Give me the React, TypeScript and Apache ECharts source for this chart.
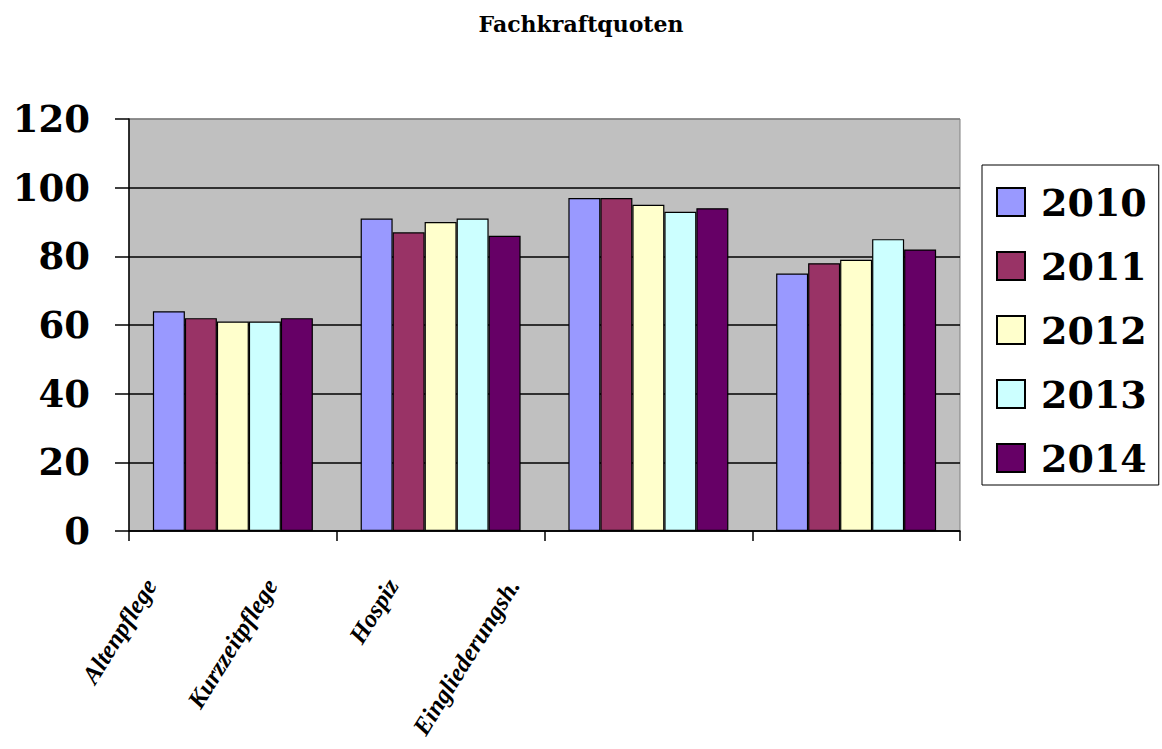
import React, { useEffect, useRef } from "react";
import * as echarts from "echarts";

const titleText = "Fachkraftquoten";
const categories = ["Altenpflege", "Kurzzeitpflege", "Hospiz", "Eingliederungsh."];
const seriesNames = ["2010", "2011", "2012", "2013", "2014"];
const values2010 = [64, 91, 97, 75];
const values2011 = [62, 87, 97, 78];
const values2012 = [61, 90, 95, 79];
const values2013 = [61, 91, 93, 85];
const values2014 = [62, 86, 94, 82];
const yTicks = { min: 0, max: 120, interval: 20 };
const colors = ["#9999FF", "#993366", "#FFFFCC", "#CCFFFF", "#660066"];

export default function App() {
  const ref = useRef<HTMLDivElement>(null);
  useEffect(() => {
    if (!ref.current) return;
    const chart = echarts.init(ref.current, null, { renderer: "svg" });
    const allValues = [values2010, values2011, values2012, values2013, values2014];
    const serif = "'DejaVu Serif', serif";
    chart.setOption({
      animation: false,
      backgroundColor: "#ffffff",
      title: {
        text: titleText,
        left: 576,
        top: 8,
        textAlign: "center",
        textStyle: { fontFamily: serif, fontWeight: "bold", fontSize: 22, color: "#000" },
      },
      legend: {
        orient: "vertical",
        left: 982,
        top: 165,
        padding: [17, 12, 7, 14],
        itemGap: 24,
        itemWidth: 28,
        itemHeight: 28,
        icon: "rect",
        borderColor: "#000",
        borderWidth: 1,
        data: seriesNames,
        textStyle: {
          fontFamily: serif,
          fontWeight: "bold",
          fontSize: 38,
          lineHeight: 40,
          color: "#000",
          padding: [0, 0, 0, 11],
        },
      },
      grid: [
        {
          left: 129,
          right: 202,
          top: 119,
          bottom: 218,
          show: true,
          backgroundColor: "#C0C0C0",
          borderColor: "#808080",
          borderWidth: 1,
        },
        { left: 90, width: 484, top: 530, height: 1, show: false },
      ],
      xAxis: [
        {
          type: "category",
          gridIndex: 0,
          data: categories,
          axisLine: { lineStyle: { color: "#000", width: 1.5 } },
          axisTick: { show: true, inside: false, length: 10, lineStyle: { color: "#000", width: 1.5 } },
          axisLabel: { show: false },
        },
        {
          type: "category",
          gridIndex: 1,
          data: categories,
          axisLine: { show: false },
          axisTick: { show: false },
          axisLabel: {
            rotate: 58,
            margin: 50,
            fontFamily: "'Liberation Serif', serif",
            fontWeight: "bold",
            fontStyle: "italic",
            fontSize: 25,
            color: "#000",
          },
        },
      ],
      yAxis: [
        {
          type: "value",
          gridIndex: 0,
          min: yTicks.min,
          max: yTicks.max,
          interval: yTicks.interval,
          axisLine: { show: true, lineStyle: { color: "#000", width: 1.5 } },
          axisTick: { show: true, inside: false, length: 14, lineStyle: { color: "#000", width: 1.5 } },
          axisLabel: {
            margin: 39,
            fontFamily: serif,
            fontWeight: "bold",
            fontSize: 37,
            color: "#000",
          },
          splitLine: {
            show: true,
            lineStyle: {
              color: ["#000", "#000", "#000", "#000", "#000", "#000", "#808080"],
              width: 1.5,
            },
          },
        },
        { type: "value", gridIndex: 1, show: false },
      ],
      series: seriesNames.map((name, i) => ({
        name,
        type: "bar",
        xAxisIndex: 0,
        yAxisIndex: 0,
        data: allValues[i],
        barGap: "0%",
        barCategoryGap: "23%",
        itemStyle: { color: colors[i], borderColor: "#000", borderWidth: 1.2 },
      })),
    });
    return () => chart.dispose();
  }, []);
  return (
    <div
      ref={ref}
      style={{ position: "fixed", left: 0, top: 0, width: 1162, height: 749 }}
    />
  );
}
